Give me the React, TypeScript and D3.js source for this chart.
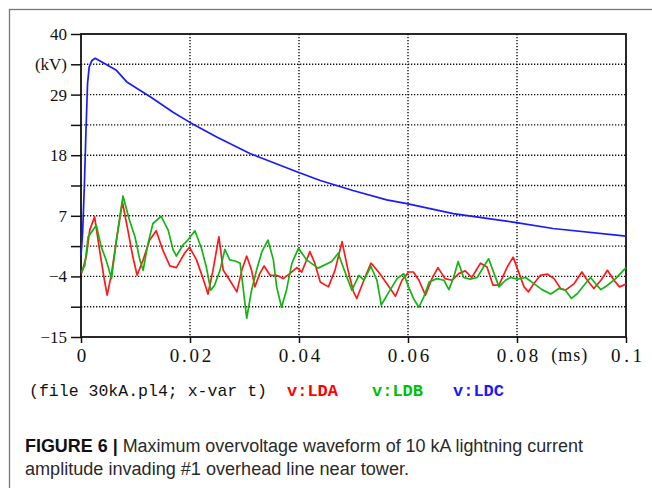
import React, { useRef, useEffect } from "react";
import * as d3 from "d3";

// time in ms, voltage in kV
const ldcT = [0, 0.0003, 0.0006, 0.0009, 0.0012, 0.0015, 0.002, 0.0026, 0.0035, 0.0065, 0.0084, 0.0127, 0.0169, 0.0199, 0.0249, 0.031, 0.0396, 0.0439, 0.0499, 0.0561, 0.0598, 0.0683, 0.0796, 0.0866, 0.1];
const ldcV = [-0.2, 4, 12, 22, 31, 34, 35.2, 35.6, 35.1, 33.4, 31.3, 28.6, 25.8, 24.0, 21.3, 18.3, 15.0, 13.4, 11.6, 9.9, 9.2, 7.4, 5.8, 4.7, 3.3];

const ldaT = [0.0001, 0.00097, 0.0016, 0.0025, 0.0034, 0.0043, 0.0048, 0.0056, 0.0065, 0.0076, 0.0086, 0.0095, 0.0103, 0.0114, 0.0126, 0.0138, 0.015, 0.0163, 0.0175, 0.019, 0.0199, 0.0212, 0.0224, 0.0233, 0.0242, 0.0253, 0.0261, 0.0273, 0.0286, 0.0295, 0.0304, 0.0313, 0.0319, 0.0328, 0.0336, 0.0347, 0.0359, 0.0371, 0.0383, 0.0396, 0.0405, 0.042, 0.0429, 0.0439, 0.0454, 0.0466, 0.0479, 0.049, 0.05, 0.0506, 0.0519, 0.0532, 0.0546, 0.0561, 0.0577, 0.0589, 0.0601, 0.061, 0.062, 0.0632, 0.0644, 0.0655, 0.0668, 0.0681, 0.0693, 0.0705, 0.0717, 0.0733, 0.0745, 0.0749, 0.0756, 0.0767, 0.0782, 0.0793, 0.0804, 0.0813, 0.0821, 0.0831, 0.0843, 0.0856, 0.0868, 0.088, 0.0889, 0.0905, 0.0919, 0.0929, 0.0941, 0.0954, 0.0966, 0.0978, 0.0988, 0.1];
const ldaV = [-3.5, -0.4, 4.4, 6.8, 0.8, -4.7, -7.4, -3.5, 2.6, 9.5, 4.4, -0.4, -3.8, -1, 2.6, 4.3, 0.8, -2.1, -2.4, 0.2, 1.3, -1, -4.4, -7.2, -3, 3.2, -2.9, -4.7, -6.8, -2.9, -0.3, -2.9, -5.9, -3.5, -2.1, -3.8, -3.8, -4.4, -3.5, -2.4, -3.2, 0.5, -1.6, -5, -5.9, -2.9, 2.3, -2.9, -6.8, -8, -4.7, -1.6, -3.2, -5.3, -7.6, -4.7, -3.2, -3.2, -4.7, -7.4, -4.4, -2.4, -4.4, -4.7, -3.5, -3, -4.2, -1.6, -2.3, -3.5, -5.6, -5.6, -2.3, -0.5, -3.5, -5.9, -6.8, -5.3, -3.8, -3.6, -4.4, -6.2, -6.5, -5.3, -3.2, -4.7, -6.2, -4.7, -2.9, -4.7, -5.9, -5.4];

const ldbT = [0.0001, 0.0007, 0.0013, 0.0022, 0.0028, 0.0037, 0.0046, 0.0056, 0.0065, 0.0077, 0.0089, 0.0099, 0.0108, 0.0114, 0.0123, 0.0132, 0.0147, 0.016, 0.0169, 0.0175, 0.0187, 0.0196, 0.0209, 0.0221, 0.023, 0.0238, 0.0245, 0.0255, 0.0264, 0.0273, 0.0283, 0.0292, 0.0298, 0.0304, 0.0313, 0.0322, 0.0332, 0.0343, 0.0353, 0.0359, 0.0368, 0.0377, 0.0387, 0.0399, 0.0414, 0.0435, 0.046, 0.0472, 0.0481, 0.0497, 0.051, 0.0519, 0.0532, 0.0543, 0.0551, 0.0565, 0.058, 0.0592, 0.0601, 0.061, 0.062, 0.0629, 0.0639, 0.0653, 0.0666, 0.0675, 0.0684, 0.0692, 0.0702, 0.0714, 0.0727, 0.0739, 0.0748, 0.0758, 0.0767, 0.0779, 0.0788, 0.0801, 0.0816, 0.0831, 0.0846, 0.0862, 0.0877, 0.0889, 0.09, 0.0911, 0.0923, 0.0935, 0.0944, 0.0954, 0.0966, 0.0981, 0.1];
const ldbV = [-3.2, -2, 3.2, 4.4, 5.3, 1.4, -1, -4.4, 2.6, 10.6, 6.2, 3.2, -1, -2.9, 2, 5.6, 6.9, 4.4, 0.8, -0.3, 1.7, 2.6, 4.3, 1.1, -2.3, -6.5, -5.6, -2.9, 0.9, -1, -1.2, -1.6, -6.5, -11.6, -6.5, -2.9, 0.5, 2.6, -1, -5.9, -9.6, -6.5, -1.6, 1.1, -1, -2.5, -1.3, 0.2, -2.3, -6.5, -3.8, -4.7, -2.2, -4.7, -9.2, -6.8, -4.4, -3.5, -5.9, -8, -9.6, -7.7, -5, -4.4, -4.7, -6.4, -4.1, -1.3, -4.2, -4.5, -4.2, -2.2, -0.8, -3.5, -5.9, -4.7, -4.2, -4.5, -4.2, -5.3, -6.4, -7.2, -6.2, -6.5, -8, -7.1, -5.6, -4.2, -5.3, -6.4, -5.6, -4.4, -2.4];

const xTicks = [0, 0.02, 0.04, 0.06, 0.08, 0.1];
const xTickLabels = ["0", "0.02", "0.04", "0.06", "0.08", "0.1"];
const yTicks = [-15, -9.5, -4, 1.5, 7, 12.5, 18, 23.5, 29, 34.5, 40];
const yTickLabels = ["\u221215", "", "\u22124", "", "7", "", "18", "", "29", "(kV)", "40"];

const series = [
  { name: "v:LDA", t: ldaT, v: ldaV, color: "#ff1a1a", legend: "#ff0000" },
  { name: "v:LDB", t: ldbT, v: ldbV, color: "#14b414", legend: "#00c000" },
  { name: "v:LDC", t: ldcT, v: ldcV, color: "#1a1aff", legend: "#1a1aff" },
];

export default function App() {
  const ref = useRef<SVGSVGElement>(null);

  useEffect(() => {
    const svg = d3.select(ref.current);
    svg.selectAll("*").remove();

    const left = 81, right = 626, top = 34, bottom = 337;
    const x = d3.scaleLinear().domain([0, 0.1]).range([left, right]);
    const y = d3.scaleLinear().domain([-15, 40]).range([bottom, top]);

    // figure frame
    svg.append("rect")
      .attr("x", 9.5).attr("y", 9.5).attr("width", 700).attr("height", 600)
      .attr("fill", "white").attr("stroke", "#777").attr("stroke-width", 1.3);

    const g = svg.append("g");

    // dotted grid
    g.selectAll(".hgrid")
      .data(yTicks.filter((d) => d > -15 && d < 40))
      .enter().append("line")
      .attr("x1", left).attr("x2", right)
      .attr("y1", (d) => y(d)).attr("y2", (d) => y(d))
      .attr("stroke", "#111").attr("stroke-width", 1.4)
      .attr("stroke-dasharray", "1.3 1.7");
    g.selectAll(".vgrid")
      .data(xTicks.filter((d) => d > 0 && d < 0.1))
      .enter().append("line")
      .attr("x1", (d) => x(d)).attr("x2", (d) => x(d))
      .attr("y1", top).attr("y2", bottom)
      .attr("stroke", "#111").attr("stroke-width", 1.4)
      .attr("stroke-dasharray", "1.3 1.7");

    // axes
    const yAxis = g.append("g")
      .attr("transform", `translate(${left},0)`)
      .call(d3.axisLeft(y).tickValues(yTicks).tickSize(10).tickPadding(4)
        .tickFormat((_d, i) => yTickLabels[i]));
    yAxis.select(".domain").remove();
    yAxis.selectAll("line").attr("stroke", "#111").attr("stroke-width", 1.5);
    yAxis.selectAll("text")
      .attr("font-family", "'Liberation Serif', serif")
      .attr("font-size", 17).attr("fill", "#111");

    const xAxis = g.append("g")
      .attr("transform", `translate(0,${bottom})`)
      .call(d3.axisBottom(x).tickValues(xTicks).tickSize(6).tickPadding(4)
        .tickFormat((_d, i) => xTickLabels[i]));
    xAxis.select(".domain").remove();
    xAxis.selectAll("line").attr("stroke", "#111").attr("stroke-width", 1.5);
    xAxis.selectAll("text")
      .attr("font-family", "'Liberation Serif', serif")
      .attr("font-size", 19).attr("fill", "#111").attr("dy", "0.78em")
      .attr("textLength", (_d, i) => xTickLabels[i].length * 10.4)
      .attr("lengthAdjust", "spacing");

    g.append("text")
      .attr("x", x(0.0896)).attr("y", bottom + 24)
      .attr("text-anchor", "middle")
      .attr("font-family", "'Liberation Serif', serif")
      .attr("font-size", 18).attr("fill", "#111")
      .attr("textLength", 36).attr("lengthAdjust", "spacing")
      .text("(ms)");

    // plot frame
    g.append("rect")
      .attr("x", left).attr("y", top)
      .attr("width", right - left).attr("height", bottom - top)
      .attr("fill", "none").attr("stroke", "#111").attr("stroke-width", 1.8);

    // curves
    series.forEach((s) => {
      const pts = s.t.map((t, i) => [t, s.v[i]] as [number, number]);
      const line = d3.line<[number, number]>()
        .x((d) => x(d[0]))
        .y((d) => y(d[1]));
      g.append("path")
        .datum(pts)
        .attr("d", line)
        .attr("fill", "none")
        .attr("stroke", s.color)
        .attr("stroke-width", 1.7)
        .attr("stroke-linejoin", "round");
    });

    // legend line
    const leg = svg.append("g")
      .attr("font-family", "'Liberation Mono', monospace")
      .attr("font-size", 17);
    leg.append("text")
      .attr("x", 29).attr("y", 396)
      .attr("fill", "#111")
      .attr("textLength", 238).attr("lengthAdjust", "spacingAndGlyphs")
      .text("(file 30kA.pl4; x-var t)");
    const legX = [287, 372, 453];
    series.forEach((s, i) => {
      leg.append("text")
        .attr("x", legX[i]).attr("y", 396)
        .attr("fill", s.legend)
        .attr("font-weight", "bold")
        .attr("textLength", 51).attr("lengthAdjust", "spacingAndGlyphs")
        .text(s.name);
    });

    // caption
    const cap = svg.append("g")
      .attr("font-family", "'Liberation Sans', Arial, sans-serif")
      .attr("font-size", 18).attr("fill", "#2a2a2a");
    const t1 = cap.append("text").attr("x", 25).attr("y", 452)
      .attr("textLength", 558).attr("lengthAdjust", "spacingAndGlyphs");
    t1.append("tspan").attr("font-weight", "bold").attr("fill", "#111").text("FIGURE 6 | ");
    t1.append("tspan").text("Maximum overvoltage waveform of 10 kA lightning current");
    cap.append("text").attr("x", 25).attr("y", 475)
      .attr("textLength", 384).attr("lengthAdjust", "spacingAndGlyphs")
      .text("amplitude invading #1 overhead line near tower.");
  }, []);

  return (
    <svg
      ref={ref}
      width={652}
      height={488}
      style={{ position: "absolute", left: 0, top: 0, background: "white" }}
    />
  );
}
